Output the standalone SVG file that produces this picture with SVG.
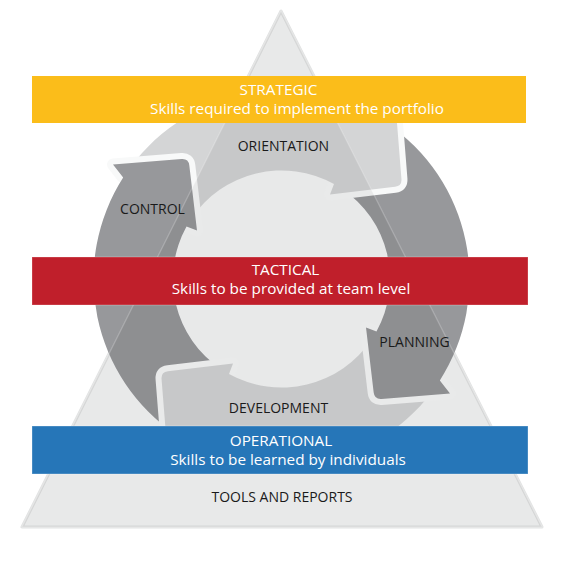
<svg xmlns="http://www.w3.org/2000/svg" xmlns:xlink="http://www.w3.org/1999/xlink" width="567" height="567" viewBox="0 0 567 567">
  <style>
    .light { fill: #d4d5d6; }
    .dark { fill: #97989b; }
    .gap { fill: #f8f9f9; stroke: #f8f9f9; stroke-width: 12; stroke-linejoin: round; }
    .band-title { font-family: "Open Sans", "Liberation Sans", sans-serif; font-size: 15.3px; fill: #ffffff; text-anchor: middle; }
    .label { font-family: "Open Sans", "Liberation Sans", sans-serif; font-size: 14px; fill: #1a1a1a; text-anchor: middle; }
  </style>
  <defs>
    <path id="arrowBody" d="M176.37 434.85 A188 188 0 0 1 123.17 177.61 L113 164.5 L181.52 159.05 Q188.5 158.5 189.32 165.45 L197 230.5 L186.5 226.5 A108.5 108.5 0 0 0 220.83 368.95 Z"/>
    <path id="arrowHead" d="M123.17 177.61 L113 164.5 L181.52 159.05 Q188.5 158.5 189.32 165.45 L197 230.5 L186.5 226.5 Z"/>
    <mask id="mDev" maskUnits="userSpaceOnUse" x="0" y="0" width="567" height="567">
      <rect x="0" y="0" width="567" height="567" fill="#ffffff"/>
      <use xlink:href="#arrowHead" href="#arrowHead" transform="rotate(-90 281.5 279)" fill="#000000" stroke="#000000" stroke-width="12" stroke-linejoin="round"/>
    </mask>
  </defs>

  <g id="pyramid">
    <polygon points="281,11 22,527 542,527" fill="#f7f8f8" stroke="#e2e3e3" stroke-width="3" stroke-linejoin="round"/>
  </g>

  <g id="connectors">
    <use xlink:href="#arrowHead" href="#arrowHead" transform="rotate(-90 281.5 279)" class="gap"/>
    <use xlink:href="#arrowBody" href="#arrowBody" transform="rotate(-90 281.5 279)" class="light"/>
    <use xlink:href="#arrowHead" href="#arrowHead" transform="rotate(180 281.5 279)" class="gap"/>
    <use xlink:href="#arrowBody" href="#arrowBody" transform="rotate(180 281.5 279)" class="dark"/>
    <use xlink:href="#arrowHead" href="#arrowHead" transform="rotate(90 281.5 279)" class="gap"/>
    <use xlink:href="#arrowBody" href="#arrowBody" transform="rotate(90 281.5 279)" class="light"/>
    <use xlink:href="#arrowHead" href="#arrowHead" class="gap"/>
    <use xlink:href="#arrowBody" href="#arrowBody" class="dark" mask="url(#mDev)"/>
  </g>

  <g id="pyramid-overlay">
    <polygon points="281,11 22,527 542,527" fill="#000000" fill-opacity="0.06"/>
    <polygon points="281,11 22,527 542,527" fill="none" stroke="#ffffff" stroke-opacity="0.22" stroke-width="1.3" stroke-linejoin="round"/>
  </g>

  <g id="strategic">
    <rect x="32" y="76" width="494" height="47" fill="#fbbd1a"/>
    <text class="band-title" x="278.5" y="94.5">STRATEGIC</text>
    <text class="band-title" x="297" y="113.5">Skills required to implement the portfolio</text>
  </g>

  <g id="tactical">
    <rect x="32" y="257" width="496" height="48" fill="#c01f2b" stroke="#ffffff" stroke-opacity="0.25" stroke-width="1"/>
    <text class="band-title" x="285.5" y="275">TACTICAL</text>
    <text class="band-title" x="291" y="294">Skills to be provided at team level</text>
  </g>

  <g id="operational">
    <rect x="32" y="426" width="496" height="48" fill="#2676b8" stroke="#ffffff" stroke-opacity="0.3" stroke-width="1"/>
    <text class="band-title" x="281" y="446">OPERATIONAL</text>
    <text class="band-title" x="288" y="465">Skills to be learned by individuals</text>
  </g>

  <g id="orientation">
    <text class="label" x="283.4" y="151">ORIENTATION</text>
  </g>
  <g id="control">
    <text class="label" x="152.5" y="214.3">CONTROL</text>
  </g>
  <g id="planning">
    <text class="label" x="414.5" y="347.3">PLANNING</text>
  </g>
  <g id="development">
    <text class="label" x="278.5" y="413">DEVELOPMENT</text>
  </g>
  <g id="tools">
    <text class="label" x="282" y="502">TOOLS AND REPORTS</text>
  </g>
</svg>
